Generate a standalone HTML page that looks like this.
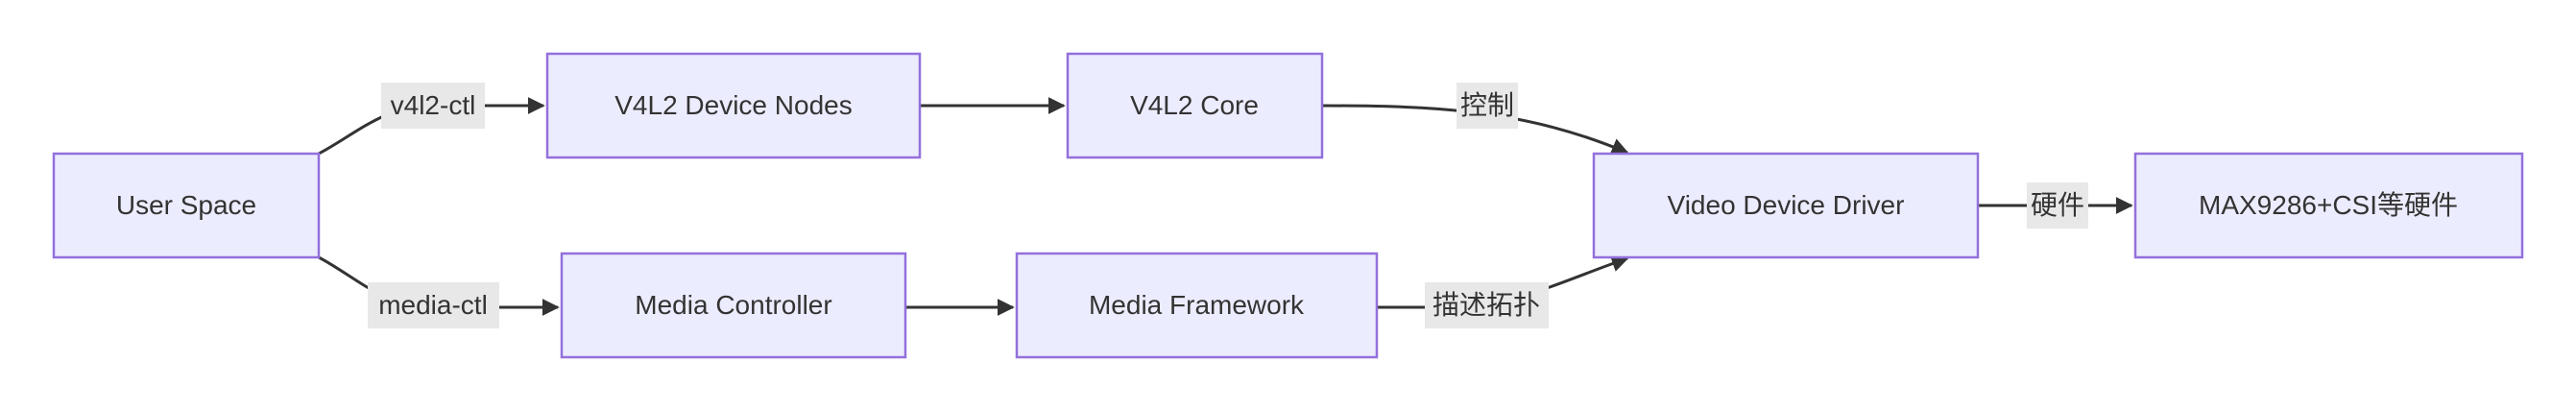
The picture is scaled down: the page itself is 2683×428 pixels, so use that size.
<!DOCTYPE html>
<html><head><meta charset="utf-8"><style>
html,body{margin:0;padding:0;background:#fff;}
svg{display:block}
text{font-family:"Liberation Sans","Noto Sans CJK SC",sans-serif;font-size:28px;fill:#333;}
.n{fill:#ececff;stroke:#9370db;stroke-width:2.5}
.e{fill:none;stroke:#333;stroke-width:3}
.l{fill:#e8e8e8}
</style></head><body>
<svg width="2683" height="428" viewBox="0 0 2683 428" xmlns="http://www.w3.org/2000/svg">
<defs><marker id="a" viewBox="0 0 10 10" refX="9" refY="5" markerWidth="6" markerHeight="6" orient="auto"><path d="M0,0L10,5L0,10z" fill="#333"/></marker></defs>
<path class="e" d="M332,160 C370,140 400,110 450,110 L566,110" marker-end="url(#a)"/>
<path class="e" d="M332,268 C370,288 400,320 450,320 L581,320" marker-end="url(#a)"/>
<path class="e" d="M958,110 L1108,110" marker-end="url(#a)"/>
<path class="e" d="M943,320 L1055,320" marker-end="url(#a)"/>
<path class="e" d="M1377,110 C1500,110 1590,115 1695,159" marker-end="url(#a)"/>
<path class="e" d="M1434,320 L1490,320 C1580,320 1620,295 1695,269" marker-end="url(#a)"/>
<path class="e" d="M2060,214 L2220,214" marker-end="url(#a)"/>
<rect class="l" x="397" y="86" width="108" height="48"/><text x="451" y="119" text-anchor="middle">v4l2-ctl</text>
<rect class="l" x="383" y="294" width="137" height="48"/><text x="451" y="327" text-anchor="middle">media-ctl</text>
<rect class="l" x="1517" y="86" width="64" height="48"/><text x="1549" y="119" text-anchor="middle">控制</text>
<rect class="l" x="1484" y="294" width="129" height="48"/><text x="1548" y="327" text-anchor="middle">描述拓扑</text>
<rect class="l" x="2111" y="190" width="64" height="48"/><text x="2143" y="223" text-anchor="middle">硬件</text>
<rect class="n" x="56" y="160" width="276" height="108"/><text x="194" y="223" text-anchor="middle">User Space</text>
<rect class="n" x="570" y="56" width="388" height="108"/><text x="764" y="119" text-anchor="middle">V4L2 Device Nodes</text>
<rect class="n" x="1112" y="56" width="265" height="108"/><text x="1244" y="119" text-anchor="middle">V4L2 Core</text>
<rect class="n" x="585" y="264" width="358" height="108"/><text x="764" y="327" text-anchor="middle">Media Controller</text>
<rect class="n" x="1059" y="264" width="375" height="108"/><text x="1246" y="327" text-anchor="middle">Media Framework</text>
<rect class="n" x="1660" y="160" width="400" height="108"/><text x="1860" y="223" text-anchor="middle">Video Device Driver</text>
<rect class="n" x="2224" y="160" width="403" height="108"/><text x="2425" y="223" text-anchor="middle">MAX9286+CSI等硬件</text>
</svg>
</body></html>
